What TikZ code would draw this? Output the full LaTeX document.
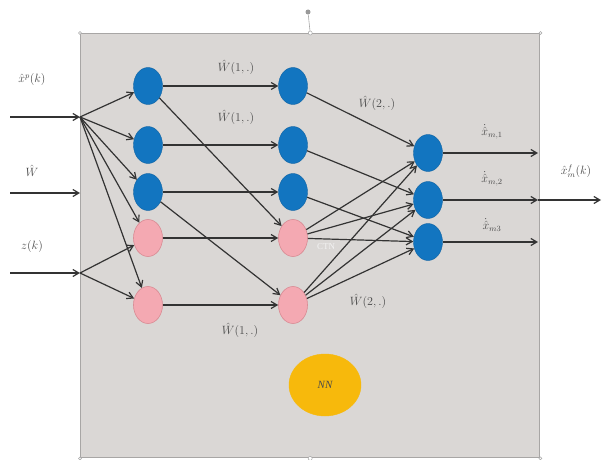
\documentclass[tikz,border=0pt]{standalone}
\usepackage{fontspec}
\setmainfont{Liberation Serif}
\usetikzlibrary{shapes.geometric,arrows.meta}
\definecolor{boxgray}{HTML}{DAD7D5}
\definecolor{boxedge}{HTML}{A8A6A5}
\definecolor{nblue}{HTML}{1275C0}
\definecolor{npink}{HTML}{F4A9B2}
\definecolor{npinkedge}{HTML}{D98A93}
\definecolor{nnyellow}{HTML}{F7B90C}
\definecolor{linegray}{HTML}{333333}
\definecolor{labgray}{HTML}{4A4A4A}
\begin{document}
\begin{tikzpicture}[x=1pt,y=-1pt,
  bluenode/.style={ellipse,fill=nblue,draw=nblue!85!black,line width=0.4pt,minimum width=29pt,minimum height=37pt,inner sep=0pt},
  pinknode/.style={ellipse,fill=npink,draw=npinkedge,line width=0.6pt,minimum width=29pt,minimum height=37pt,inner sep=0pt},
  conn/.style={draw=linegray,line width=1.2pt,-{Straight Barb[length=6pt,width=7pt]}},
  lab/.style={text=labgray,font=\fontsize{12}{14}\selectfont,inner sep=1pt},
  handle/.style={circle,draw=gray!70,fill=white,line width=0.5pt,minimum size=4pt,inner sep=0pt}
]
\useasboundingbox (0,0) rectangle (603,460);
% frame
\node[draw=boxedge,fill=boxgray,line width=1.4pt,minimum width=459pt,minimum height=424pt,inner sep=0pt,anchor=north west] (box) at (80,33) {};
\node[circle,fill=gray!80,minimum size=5pt,inner sep=0pt] (rot) at (308,12) {};
\draw[gray!70,line width=0.6pt] (rot) -- (box.north);
\node[handle] (h1) at (box.north) {};
\node[handle] (h2) at (box.south) {};
\node[handle,minimum size=3pt] (h3) at (box.north west) {};
\node[handle,minimum size=3pt] (h4) at (box.south west) {};
\node[handle,minimum size=3pt] (h5) at (box.north east) {};
\node[handle,minimum size=3pt] (h6) at (box.south east) {};
% nodes
\node[bluenode] (a1) at (148,86) {};
\node[bluenode] (a2) at (148,145) {};
\node[bluenode] (a3) at (148,192) {};
\node[pinknode] (a4) at (148,238) {};
\node[pinknode] (a5) at (148,305) {};
\node[bluenode] (b1) at (293,86) {};
\node[bluenode] (b2) at (293,145) {};
\node[bluenode] (b3) at (293,192) {};
\node[pinknode] (b4) at (293,238) {};
\node[pinknode] (b5) at (293,305) {};
\node[bluenode] (c1) at (428,153) {};
\node[bluenode] (c2) at (428,200) {};
\node[bluenode] (c3) at (428,242) {};
\node[ellipse,fill=nnyellow,draw=nnyellow,minimum width=72pt,minimum height=62pt,inner sep=0pt,font=\fontsize{11}{13}\selectfont\itshape,text=labgray] (nn) at (325,385) {NN};
% inputs
\coordinate (i1) at (10,117);
\coordinate (f1) at (80,117);
\coordinate (i2) at (10,193);
\coordinate (f2) at (80,193);
\coordinate (i3) at (10,273);
\coordinate (f3) at (80,273);
\draw[conn] (i1) -- (f1);
\draw[conn] (i2) -- (f2);
\draw[conn] (i3) -- (f3);
\foreach \t in {a1,a2,a3,a4,a5} \draw[conn] (f1) -- (\t);
\foreach \t in {a4,a5} \draw[conn] (f3) -- (\t);
% layer 1 -> 2
\draw[conn] (a1) -- (b1);
\draw[conn] (a2) -- (b2);
\draw[conn] (a3) -- (b3);
\draw[conn] (a4) -- (b4);
\draw[conn] (a5) -- (b5);
\draw[conn] (a1) -- (b4);
\draw[conn] (a3) -- (b5);
% layer 2 -> 3
\draw[conn] (b1) -- (c1);
\draw[conn] (b2) -- (c2);
\draw[conn] (b3) -- (c3);
\foreach \t in {c1,c2,c3} \draw[conn] (b4) -- (\t);
\foreach \t in {c1,c2,c3} \draw[conn] (b5) -- (\t);
% outputs
\coordinate (o1) at (538,153);
\coordinate (o2) at (538,200);
\coordinate (o3) at (538,242);
\coordinate (oe) at (601,200);
\draw[conn] (c1) -- (o1);
\draw[conn] (c2) -- (o2);
\draw[conn] (c3) -- (o3);
\draw[conn] (o2) -- (oe);
% labels
\node[lab] (l1) at (32,80) {$\hat{x}^{p}(k)$};
\node[lab] (l2) at (32,171) {$\hat{W}$};
\node[lab] (l3) at (32,246) {$z(k)$};
\node[lab] (w1) at (236,67) {$\hat{W}(1,.)$};
\node[lab] (w2) at (236,117) {$\hat{W}(1,.)$};
\node[lab] (w3) at (240,330) {$\hat{W}(1,.)$};
\node[lab] (w4) at (377,103) {$\hat{W}(2,.)$};
\node[lab] (w5) at (368,301) {$\hat{W}(2,.)$};
\node[lab] (x1) at (492,132) {$\dot{\hat{x}}_{m,1}$};
\node[lab] (x2) at (492,179) {$\dot{\hat{x}}_{m,2}$};
\node[lab] (x3) at (492,225) {$\dot{\hat{x}}_{m3}$};
\node[lab] (xo) at (576,171) {$\hat{x}^{f}_{m}(k)$};
\node[text=white!90!gray,font=\fontsize{9}{11}\selectfont,inner sep=0pt] (ctn) at (326,247) {CTN};
\end{tikzpicture}
\end{document}
